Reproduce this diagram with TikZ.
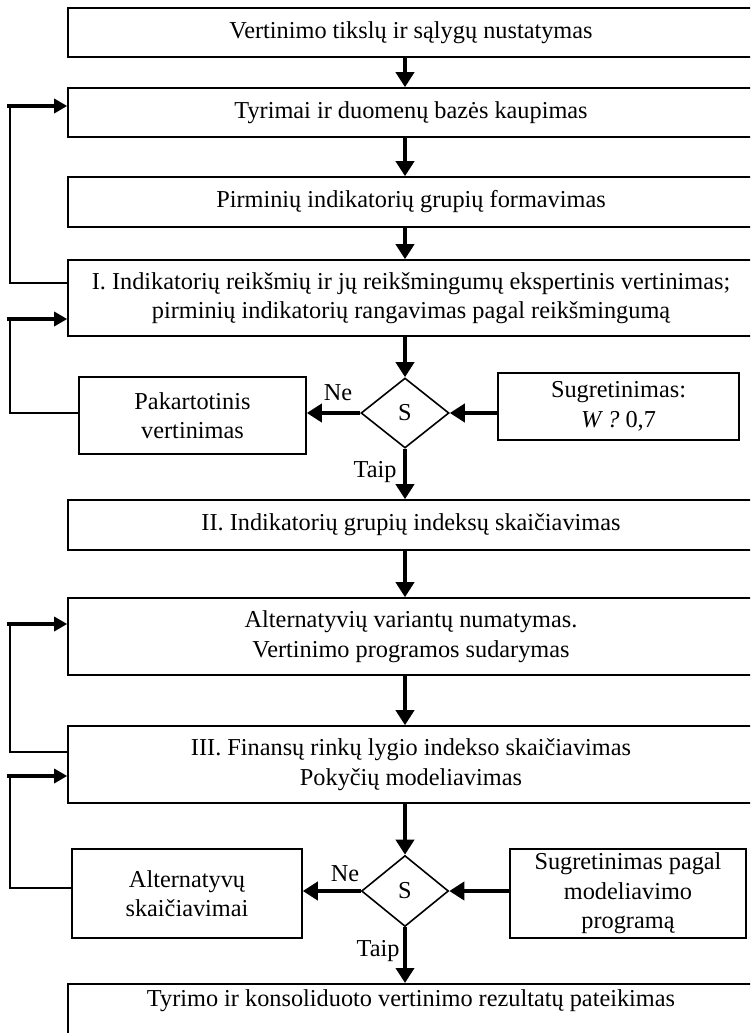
\documentclass[tikz,border=0pt]{standalone}
\usepackage{fontspec}
\setmainfont{Liberation Serif}
\usetikzlibrary{arrows.meta,shapes.geometric}
\begin{document}
\begin{tikzpicture}[x=1pt,y=-1pt,
  txt/.style={font=\fontsize{24.3}{29.5}\selectfont},
  box/.style={draw, line width=1.6pt, align=center, inner sep=0pt, txt},
  big/.style={box, minimum width=686pt},
  dia/.style={draw, diamond, line width=1.6pt, inner sep=0pt, txt},
  arr/.style={line width=4pt, -{Triangle[width=18pt,length=15pt]}},
  arrL/.style={line width=4pt, -{Triangle[width=14pt,length=13pt]}},
  loopline/.style={line width=1.5pt},
  lbl/.style={inner sep=0pt, txt}]
\useasboundingbox (0,0) rectangle (750,1033);
\clip (0,0) rectangle (750,1033);
\fill[white] (0,0) rectangle (750,1033);
\coordinate (cx) at (405,0);
% main boxes
\node[big, minimum height=49pt] (b1) at (411,32.5) {Vertinimo tikslų ir sąlygų nustatymas};
\node[big, minimum height=49pt] (b2) at (411,112.5) {Tyrimai ir duomenų bazės kaupimas};
\node[big, minimum height=50pt] (b3) at (411,202) {Pirminių indikatorių grupių formavimas};
\node[big, minimum height=76pt] (b4) at (411,298) {I. Indikatorių reikšmių ir jų reikšmingumų ekspertinis vertinimas;\\ pirminių indikatorių rangavimas pagal reikšmingumą};
\node[big, minimum height=50pt] (b5) at (411,525) {II. Indikatorių grupių indeksų skaičiavimas};
\node[big, minimum height=77pt] (b6) at (411,636.5) {Alternatyvių variantų numatymas.\\ Vertinimo programos sudarymas};
\node[big, minimum height=77pt] (b7) at (411,764.5) {III. Finansų rinkų lygio indekso skaičiavimas\\ Pokyčių modeliavimas};
\node[big, minimum height=80pt, anchor=north] (b8) at (411,983) {};
\node[lbl] (b8t) at (411,1001) {Tyrimo ir konsoliduoto vertinimo rezultatų pateikimas};
% decision 1
\node[dia, minimum width=88pt, minimum height=70pt] (d1) at (405,413) {S};
\node[box, minimum width=227pt, minimum height=77pt] (pak) at (192.5,415.5) {Pakartotinis\\ vertinimas};
\node[box, minimum width=241pt, minimum height=67pt] (sug) at (618.5,406.5) {Sugretinimas:\\ {\itshape W ?} 0,7};
% decision 2
\node[dia, minimum width=87pt, minimum height=71pt] (d2) at (405,891) {S};
\node[box, minimum width=230pt, minimum height=89pt] (alt) at (187,893.5) {Alternatyvų\\ skaičiavimai};
\node[box, minimum width=236pt, minimum height=89pt] (sug2) at (628,893.5) {Sugretinimas pagal\\ modeliavimo\\ programą};
% labels
\node[lbl] (ne1) at (338,393) {Ne};
\node[lbl] (taip1) at (375,472) {Taip};
\node[lbl] (ne2) at (345,874) {Ne};
\node[lbl] (taip2) at (378,951) {Taip};
% main flow
\draw[arr] (b1.south -| cx) -- (b2.north -| cx);
\draw[arr] (b2.south -| cx) -- (b3.north -| cx);
\draw[arr] (b3.south -| cx) -- (b4.north -| cx);
\draw[arr] (b4.south -| cx) -- (d1.north);
\draw[arr] (d1.south) -- (b5.north -| cx);
\draw[arr] (d1.west) -- (d1.west -| pak.east);
\draw[arr] (sug.west |- d1.east) -- (d1.east);
\draw[arr] (b5.south -| cx) -- (b6.north -| cx);
\draw[arr] (b6.south -| cx) -- (b7.north -| cx);
\draw[arr] (b7.south -| cx) -- (d2.north);
\draw[arr] (d2.south) -- (b8.north -| cx);
\draw[arr] (d2.west) -- (d2.west -| alt.east);
\draw[arr] (sug2.west |- d2.east) -- (d2.east);
% feedback loops
\coordinate (a1) at (7,106);
\coordinate (c1) at (10,283);
\draw[loopline] (b4.west |- c1) -- (c1) -- (c1 |- a1);
\draw[arrL] (a1) -- (a1 -| b2.west);
\coordinate (a2) at (7,319);
\coordinate (c2) at (10,413);
\draw[loopline] (pak.west |- c2) -- (c2) -- (c2 |- a2);
\draw[arrL] (a2) -- (a2 -| b4.west);
\coordinate (a3) at (7,624);
\coordinate (c3) at (10,752);
\draw[loopline] (b7.west |- c3) -- (c3) -- (c3 |- a3);
\draw[arrL] (a3) -- (a3 -| b6.west);
\coordinate (a4) at (7,776);
\coordinate (c4) at (10,888);
\draw[loopline] (alt.west |- c4) -- (c4) -- (c4 |- a4);
\draw[arrL] (a4) -- (a4 -| b7.west);
\end{tikzpicture}
\end{document}
